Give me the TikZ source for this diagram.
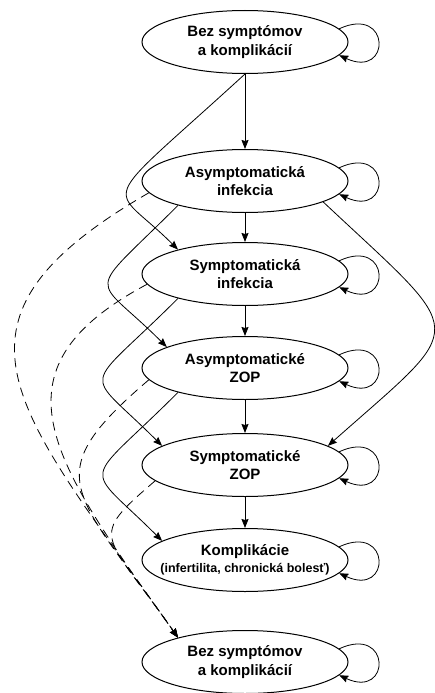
\documentclass[tikz,border=0pt]{standalone}
\usepackage{fontspec}
\setmainfont{Liberation Sans}
\usetikzlibrary{arrows.meta,shapes.geometric}
\begin{document}
\begin{tikzpicture}[x=1pt,y=-1pt,
  state/.style={ellipse,draw,line width=1pt,minimum width=206pt,minimum height=63pt,inner sep=0pt},
  lab/.style={align=center,font=\bfseries\fontsize{15}{18.5}\selectfont,inner sep=0pt},
  arr/.style={line width=0.8pt,-{Stealth[length=9pt,width=7pt,inset=1pt]}},
  dsh/.style={arr,dash pattern=on 9pt off 6pt},
  selfloop/.style={arr}
]
\useasboundingbox (0,0) rectangle (435,693);
\node[state,label={[lab,name=t1]center:{Bez symptómov\\a komplikácií}}] (n1) at (245,42) {};
\node[state,label={[lab,name=t2]center:{Asymptomatická\\infekcia}}] (n2) at (245,181) {};
\node[state,label={[lab,name=t3]center:{Symptomatická\\infekcia}}] (n3) at (245,274) {};
\node[state,label={[lab,name=t4]center:{Asymptomatické\\ZOP}}] (n4) at (245,368) {};
\node[state,label={[lab,name=t5]center:{Symptomatické\\ZOP}}] (n5) at (245,465) {};
\node[state,label={[lab,name=t6]center:{Komplikácie\\[-2pt]{\fontsize{12.5}{15}\selectfont (infertilita, chronická bolesť)}}}] (n6) at (245,560) {};
\node[state,label={[lab,name=t7]center:{Bez symptómov\\a komplikácií}}] (n7) at (245,662) {};

% self loops
\foreach \n in {n1,n2,n3,n4,n5,n6,n7}
  \draw[selfloop] (\n.8) .. controls +(52,-24) and +(52,24) .. (\n.-8);

% vertical arrows
\draw[arr] (n1.south) -- (n2.north);
\draw[arr] (n2.south) -- (n3.north);
\draw[arr] (n3.south) -- (n4.north);
\draw[arr] (n4.south) -- (n5.north);
\draw[arr] (n5.south) -- (n6.north);

% skip arrows on the left
\draw[arr] (n1.south) .. controls +(-153,140) and +(-69,-69) .. (n3.160);
\draw[arr] (n2.200) .. controls +(-95,95) and +(-75,-75) .. (n4.165);
\draw[arr] (n3.200) .. controls +(-97,97) and +(-80,-80) .. (n5.167);
\draw[arr] (n4.200) .. controls +(-97,97) and +(-80,-80) .. (n6.167);

% right arrow
\draw[arr] (n2.-15) .. controls +(147,138) and +(142,-126) .. (n5.13);

% dashed arrows to recovery
\draw[dsh] (n2.187) .. controls +(-225,130) and +(-162,-230) .. (n7.160);
\draw[dsh] (n3.186) .. controls +(-163,87) and +(-125,-176) .. (n7.160);
\draw[dsh] (n4.187) .. controls +(-114,97.5) and +(-104,-148) .. (n7.160);
\draw[dsh] (n5.190) .. controls +(-68,58.5) and +(-75,-107) .. (n7.160);
\end{tikzpicture}
\end{document}
